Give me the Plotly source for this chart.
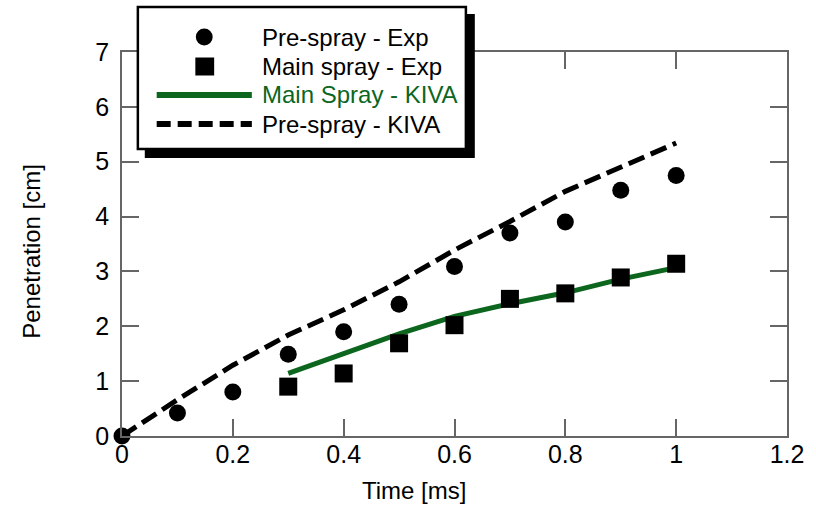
import plotly.graph_objects as go

# ---- data ----
t_exp = [0.0, 0.1, 0.2, 0.3, 0.4, 0.5, 0.6, 0.7, 0.8, 0.9, 1.0]
pre_exp = [0.0, 0.42, 0.80, 1.49, 1.90, 2.40, 3.09, 3.70, 3.90, 4.48, 4.75]

t_main = [0.3, 0.4, 0.5, 0.6, 0.7, 0.8, 0.9, 1.0]
main_exp = [0.90, 1.14, 1.69, 2.02, 2.50, 2.60, 2.89, 3.14]

t_kiva_main = [0.3, 0.4, 0.5, 0.6, 0.7, 0.8, 0.9, 1.0]
main_kiva = [1.14, 1.51, 1.86, 2.18, 2.41, 2.61, 2.86, 3.07]

t_kiva_pre = [0.0, 0.1, 0.2, 0.3, 0.4, 0.5, 0.6, 0.7, 0.8, 0.9, 1.0]
pre_kiva = [0.0, 0.66, 1.29, 1.84, 2.30, 2.81, 3.39, 3.91, 4.46, 4.90, 5.34]

x_ticks = [0, 0.2, 0.4, 0.6, 0.8, 1.0, 1.2]
y_ticks = [0, 1, 2, 3, 4, 5, 6, 7]

GREEN = "#0c661e"
FONT = "Arial, Liberation Sans, sans-serif"

W, H = 816, 512
L, R, T, B = 122, 793, 52, 436


def px(x):
    return (x - L) / (R - L)


def py(y):
    return (B - y) / (B - T)


fig = go.Figure()
fig.add_trace(go.Scatter(x=t_kiva_pre, y=pre_kiva, mode="lines",
                         line=dict(color="black", width=5, dash="17px,7px"),
                         cliponaxis=False, showlegend=False))
fig.add_trace(go.Scatter(x=t_exp, y=pre_exp, mode="markers",
                         marker=dict(symbol="circle", size=17, color="black"),
                         cliponaxis=False, showlegend=False))
fig.add_trace(go.Scatter(x=t_kiva_main, y=main_kiva, mode="lines",
                         line=dict(color=GREEN, width=5),
                         cliponaxis=False, showlegend=False))
fig.add_trace(go.Scatter(x=t_main, y=main_exp, mode="markers",
                         marker=dict(symbol="square", size=18, color="black"),
                         cliponaxis=False, showlegend=False))

axis_common = dict(showline=True, linecolor="#666", linewidth=1.5,
                   ticks="inside", ticklen=17, tickcolor="#666", tickwidth=1.5,
                   mirror="ticks", showgrid=False, zeroline=False,
                   tickfont=dict(family=FONT, size=25, color="black"))
fig.update_xaxes(range=[0, 1.2], tickvals=x_ticks, ticklabelstandoff=-5, **axis_common)
fig.update_yaxes(range=[0, 7], tickvals=y_ticks, ticklabelstandoff=6, **axis_common)

shapes = []
# legend shadow and box
shapes.append(dict(type="rect", xref="paper", yref="paper",
                   x0=px(145), x1=px(478), y0=py(14), y1=py(158),
                   fillcolor="black", line=dict(width=0), layer="above"))
shapes.append(dict(type="rect", xref="paper", yref="paper",
                   x0=px(138), x1=px(469), y0=py(7), y1=py(149),
                   fillcolor="white", line=dict(color="black", width=2.5), layer="above"))
# legend symbols
shapes.append(dict(type="circle", xref="paper", yref="paper",
                   x0=px(196.5), x1=px(213.5), y0=py(28.5), y1=py(45.5),
                   fillcolor="black", line=dict(width=0), layer="above"))
shapes.append(dict(type="rect", xref="paper", yref="paper",
                   x0=px(196), x1=px(215), y0=py(57.5), y1=py(75.5),
                   fillcolor="black", line=dict(width=0), layer="above"))
shapes.append(dict(type="line", xref="paper", yref="paper",
                   x0=px(157), x1=px(253), y0=py(95), y1=py(95),
                   line=dict(color=GREEN, width=6), layer="above"))
shapes.append(dict(type="line", xref="paper", yref="paper",
                   x0=px(157), x1=px(253), y0=py(124), y1=py(124),
                   line=dict(color="black", width=6, dash="14px,7px"), layer="above"))

annotations = []
legend_items = [("Pre-spray - Exp", 37, "black"),
                ("Main spray - Exp", 66, "black"),
                ("Main Spray - KIVA", 95, GREEN),
                ("Pre-spray - KIVA", 124, "black")]
for txt, yy, col in legend_items:
    annotations.append(dict(text=txt, xref="paper", yref="paper",
                            x=px(261), y=py(yy), xanchor="left", yanchor="middle",
                            showarrow=False, font=dict(family=FONT, size=24, color=col)))
annotations.append(dict(text="Time [ms]", xref="paper", yref="paper",
                        x=px(417), y=py(490), xanchor="center", yanchor="middle",
                        showarrow=False, font=dict(family=FONT, size=24, color="black")))
annotations.append(dict(text="Penetration [cm]", xref="paper", yref="paper",
                        x=px(30), y=py(251), xanchor="center", yanchor="middle",
                        textangle=-90,
                        showarrow=False, font=dict(family=FONT, size=24, color="black")))

fig.update_layout(width=W, height=H,
                  margin=dict(l=L, r=W - R, t=T, b=H - B),
                  paper_bgcolor="white", plot_bgcolor="white",
                  shapes=shapes, annotations=annotations, showlegend=False)

fig.write_html("out.html")
